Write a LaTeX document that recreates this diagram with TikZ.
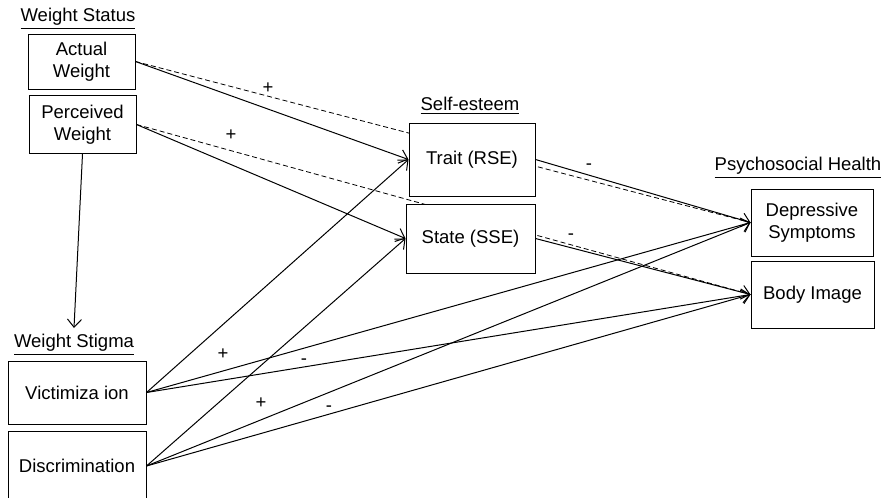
\documentclass[tikz,border=0pt]{standalone}
\usepackage{fontspec}
\setmainfont{Liberation Sans}
\usetikzlibrary{arrows.meta,backgrounds}
\tikzset{
	box/.style={draw,fill=white,align=center,inner sep=0pt},
	heading/.style={inner sep=0pt},
	sgn/.style={inner sep=0pt},
	path/.style={->},
	dpath/.style={dash pattern=on 2.5pt off 1.5pt}
}
\begin{document}
\begin{tikzpicture}[x=0.5pt,y=-0.5pt,>={Straight Barb[length=4pt,width=7pt]},line width=0.5pt,font=\fontsize{9.25}{11}\selectfont]
				\useasboundingbox (0,0) rectangle (884,498);
				\clip (0,0) rectangle (884,498);
				% headings
				\node[heading] (hstatus) at (78,19) {\underline{Weight Status}};
				\node[heading] (hstigma) at (74,345) {\underline{Weight Stigma}};
				\node[heading] (hself) at (470,106) {\underline{Self-esteem}};
				\node[heading] (hhealth) at (798,168) {\underline{Psychosocial Health}};
				% boxes
				\node[box,minimum width=53.5pt,minimum height=27.5pt] (actual) at (81.5,61.5) {Actual\\Weight};
				\node[box,minimum width=53.5pt,minimum height=29pt] (perceived) at (82.5,124.5) {Perceived\\Weight};
				\node[box,minimum width=69pt,minimum height=31.5pt] (victim) at (77,392.5) {Victimiza ion};
				\node[box,minimum width=69pt,minimum height=35pt] (discrim) at (77,466) {Discrimination};
				\node[box,minimum width=63pt,minimum height=36.5pt] (trait) at (472,159.5) {Trait (RSE)};
				\node[box,minimum width=64.5pt,minimum height=34.5pt] (state) at (470.5,238.5) {State (SSE)};
				\node[box,minimum width=61pt,minimum height=33.5pt] (depress) at (812,222.5) {Depressive\\Symptoms};
				\node[box,minimum width=61.5pt,minimum height=33.5pt] (body) at (812.5,294.5) {Body Image};
				\coordinate (stigtop) at (74,328);
				% dashed paths run behind the self-esteem boxes
				\begin{scope}[on background layer]
					\draw[dpath] (actual.east)--(depress.west);
					\draw[dpath] (perceived.east)--(body.west);
				\end{scope}
				\draw[path] (perceived.south)--(stigtop);
				\draw[path] (actual.east)--(trait.west);
				\draw[path] (perceived.east)--(state.west);
				\draw[path] (trait.east)--(depress.west);
				\draw[path] (state.east)--(body.west);
				\foreach \a/\b in {victim/trait,victim/depress,victim/body,discrim/state,discrim/depress,discrim/body}
					\draw[path] (\a.east)--(\b.west);
				% signs
				\foreach \s/\px/\py/\n in {+/268/88/s1,+/231/135/s2,-/589/167/s3,-/571/237/s4,+/223/354/s5,-/304/362/s6,+/261/403/s7,-/329/409/s8}
					\node[sgn] (\n) at (\px,\py) {\s};
			\end{tikzpicture}
\end{document}
